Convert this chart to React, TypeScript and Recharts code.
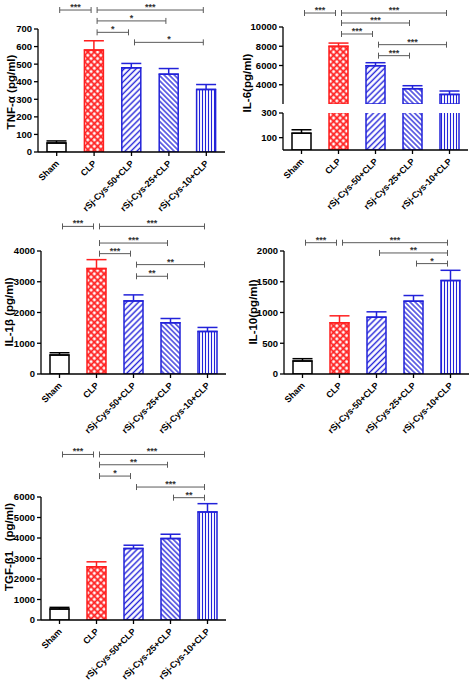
import React from "react";
import { BarChart, Bar, XAxis, YAxis, Cell, ErrorBar, ReferenceLine } from "recharts";

const FONT = "'Liberation Sans', Arial, Helvetica, sans-serif";
const RED = "#ff1f1f";
const BLUE = "#2222d9";
const GRAY = "#5a5a5a";

// groups on the x axis
const groups = ["Sham", "CLP", "rSj-Cys-50+CLP", "rSj-Cys-25+CLP", "rSj-Cys-10+CLP"];

// means and SEM (pg/ml)
const tnfMean = [51, 580, 479, 443, 356];
const tnfSem = [12, 53, 25, 32, 28];
const il6Mean = [136, 7990, 5980, 3590, 3000];
const il6Sem = [28, 340, 310, 310, 350];
const il1bMean = [616, 3427, 2378, 1665, 1384];
const il1bSem = [76, 292, 195, 140, 130];
const il10Mean = [211, 832, 924, 1184, 1519];
const il10Sem = [38, 114, 87, 92, 167];
const tgfMean = [535, 2594, 3486, 3973, 5270];
const tgfSem = [81, 244, 162, 211, 405];

// y axis ticks
const tnfTicks = [0, 100, 200, 300, 400, 500, 600, 700];
const il6TopTicks = [2000, 4000, 6000, 8000, 10000];
const il6LowTicks = [0, 100, 200, 300];
const il1bTicks = [0, 1000, 2000, 3000, 4000];
const il10Ticks = [0, 500, 1000, 1500, 2000];
const tgfTicks = [0, 1000, 2000, 3000, 4000, 5000, 6000];

// significance brackets: [from group, to group, height (data units), stars]
const tnfSig = [[0, 1, 808, "***"], [1, 4, 808, "***"], [1, 3, 746, "*"], [1, 2, 681, "*"], [2, 4, 624, "*"]];
const il6Sig = [[0, 1, 11454, "***"], [1, 4, 11454, "***"], [1, 3, 10416, "***"], [1, 2, 9273, "***"], [2, 4, 8165, "***"], [2, 3, 7022, "***"]];
const il1bSig = [[0, 1, 4800, "***"], [1, 4, 4800, "***"], [1, 3, 4259, "***"], [1, 2, 3914, "***"], [2, 4, 3557, "**"], [2, 3, 3178, "**"]];
const il10Sig = [[0, 1, 2135, "***"], [1, 4, 2135, "***"], [2, 4, 1968, "**"], [3, 4, 1795, "*"]];
const tgfSig = [[0, 1, 8075, "***"], [1, 4, 8075, "***"], [1, 3, 7573, "**"], [1, 2, 7021, "*"], [2, 4, 6486, "***"], [3, 4, 5967, "**"]];

const fills = ["#ffffff", "url(#hatchCross)", "url(#hatchFwd)", "url(#hatchBack)", "url(#hatchVert)"];
const strokes = ["#000000", RED, BLUE, BLUE, BLUE];

// one row per group; error kept one-sided (mean + SEM), split by colour.
// values under the axis floor are dropped (upper half of the broken IL-6 axis)
const buildRows = (mean: number[], sem: number[], floor: number) =>
  groups.map((name, i) => {
    const keep = mean[i] >= floor;
    const err = keep ? [0, sem[i]] : undefined;
    return {
      name,
      value: keep ? mean[i] : null,
      errBlack: i === 0 ? err : undefined,
      errRed: i === 1 ? err : undefined,
      errBlue: i > 1 ? err : undefined,
    };
  });

const XTick = (props: any) => {
  const { x, y, payload } = props;
  return (
    <g transform={`translate(${x + 3},${y + 6})`}>
      <text textAnchor="end" transform="rotate(-45)" fontSize={9} fontWeight="bold" fontFamily={FONT} fill="#000">
        {payload.value}
      </text>
    </g>
  );
};

const bracket = (stars: string) => (p: any) => {
  const x1 = p.x1 + 3;
  const x2 = p.x2 - 3;
  const y = p.y1;
  return (
    <g>
      <line x1={x1} y1={y} x2={x2} y2={y} stroke={GRAY} strokeWidth={1} />
      <line x1={x1} y1={y - 3} x2={x1} y2={y + 3} stroke={GRAY} strokeWidth={1} />
      <line x1={x2} y1={y - 3} x2={x2} y2={y + 3} stroke={GRAY} strokeWidth={1} />
      <text x={(x1 + x2) / 2} y={y} textAnchor="middle" fontSize={9} fontWeight="bold" fontFamily={FONT} fill="#333">
        {stars}
      </text>
    </g>
  );
};

// rotated y title, placed on the page
const YTitle = ({ text, x, y }: { text: string; x: number; y: number }) => (
  <svg width={1} height={1} style={{ position: "absolute", left: 0, top: 0, overflow: "visible" }}>
    <text
      x={x}
      y={y}
      transform={`rotate(-90, ${x}, ${y})`}
      textAnchor="middle"
      dominantBaseline="central"
      fontSize={11.5}
      fontWeight="bold"
      fontFamily={FONT}
      fill="#000"
      style={{ whiteSpace: "pre" }}
    >
      {text}
    </text>
  </svg>
);

const axisStyle = { stroke: "#000", strokeWidth: 1.3 };
const tickStyle = { fontSize: 9.5, fontWeight: "bold", fill: "#000", fontFamily: FONT };

type ChartProps = {
  mean: number[];
  sem: number[];
  ticks: number[];
  sig?: any[];
  left: number;
  top: number;
  height: number;
  margin: { top: number; right: number; left: number; bottom: number };
  yW: number;
  xH: number;
  hideX?: boolean;
};

const Panel = (c: ChartProps) => {
  const rows = buildRows(c.mean, c.sem, c.ticks[0]);
  return (
    <div style={{ position: "absolute", left: c.left, top: c.top }}>
      <BarChart width={236} height={c.height} data={rows} margin={c.margin}>
        <XAxis
          dataKey="name"
          hide={c.hideX}
          height={c.xH}
          interval={0}
          tickSize={4}
          tickMargin={2}
          axisLine={axisStyle}
          tickLine={axisStyle}
          tick={<XTick />}
        />
        <YAxis
          width={c.yW}
          domain={[c.ticks[0], c.ticks[c.ticks.length - 1]]}
          ticks={c.ticks}
          allowDataOverflow
          tickSize={4}
          tickMargin={2}
          axisLine={axisStyle}
          tickLine={axisStyle}
          tick={tickStyle}
        />
        <Bar dataKey="value" barSize={19} strokeWidth={1.5} isAnimationActive={false}>
          {rows.map((r, i) => (
            <Cell key={r.name} fill={fills[i]} stroke={strokes[i]} />
          ))}
          <ErrorBar dataKey="errBlack" direction="y" width={10} stroke="#000" strokeWidth={1.5} isAnimationActive={false} />
          <ErrorBar dataKey="errRed" direction="y" width={10} stroke={RED} strokeWidth={1.5} isAnimationActive={false} />
          <ErrorBar dataKey="errBlue" direction="y" width={10} stroke={BLUE} strokeWidth={1.5} isAnimationActive={false} />
        </Bar>
        {(c.sig || []).map(([a, b, y, stars]: any, i: number) => (
          <ReferenceLine
            key={i}
            segment={[{ x: groups[a], y }, { x: groups[b], y }]}
            ifOverflow="visible"
            shape={bracket(stars)}
          />
        ))}
      </BarChart>
    </div>
  );
};

export default function App() {
  return (
    <div style={{ position: "absolute", left: 0, top: 0, width: 472, height: 682, background: "#fff" }}>
      <svg width={0} height={0} style={{ position: "absolute" }}>
        <defs>
          <pattern id="hatchCross" patternUnits="userSpaceOnUse" width={4.6} height={4.6} patternTransform="rotate(45)">
            <rect width={4.6} height={4.6} fill="#fff" />
            <path d="M0 2.3H4.6M2.3 0V4.6" stroke={RED} strokeWidth={1.8} />
          </pattern>
          <pattern id="hatchFwd" patternUnits="userSpaceOnUse" width={4.2} height={4.2} patternTransform="rotate(45)">
            <rect width={4.2} height={4.2} fill="#fff" />
            <path d="M2.1 0V4.2" stroke={BLUE} strokeWidth={1.4} />
          </pattern>
          <pattern id="hatchBack" patternUnits="userSpaceOnUse" width={3.6} height={3.6} patternTransform="rotate(-45)">
            <rect width={3.6} height={3.6} fill="#fff" />
            <path d="M1.8 0V3.6" stroke={BLUE} strokeWidth={1.3} />
          </pattern>
          <pattern id="hatchVert" patternUnits="userSpaceOnUse" width={3} height={3}>
            <rect width={3} height={3} fill="#fff" />
            <path d="M1.5 0V3" stroke={BLUE} strokeWidth={1.1} />
          </pattern>
        </defs>
      </svg>

      {/* TNF-α */}
      <Panel mean={tnfMean} sem={tnfSem} ticks={tnfTicks} sig={tnfSig}
        left={0} top={0} height={220} margin={{ top: 29, right: 11, left: 0, bottom: 0 }} yW={38} xH={68} />

      {/* IL-6, broken axis: upper and lower segment */}
      <Panel mean={il6Mean} sem={il6Sem} ticks={il6TopTicks} sig={il6Sig}
        left={236} top={0} height={106} margin={{ top: 27, right: 4, left: 0, bottom: 2 }} yW={47} xH={0} hideX />
      <Panel mean={il6Mean} sem={il6Sem} ticks={il6LowTicks}
        left={236} top={105} height={113} margin={{ top: 8, right: 4, left: 0, bottom: 0 }} yW={47} xH={68} />

      {/* IL-1β */}
      <Panel mean={il1bMean} sem={il1bSem} ticks={il1bTicks} sig={il1bSig}
        left={0} top={212} height={230} margin={{ top: 39, right: 10, left: 0, bottom: 0 }} yW={41} xH={68} />

      {/* IL-10 */}
      <Panel mean={il10Mean} sem={il10Sem} ticks={il10Ticks} sig={il10Sig}
        left={236} top={212} height={230} margin={{ top: 39, right: 3, left: 0, bottom: 0 }} yW={48} xH={68} />

      {/* TGF-β1 */}
      <Panel mean={tgfMean} sem={tgfSem} ticks={tgfTicks} sig={tgfSig}
        left={0} top={440} height={242} margin={{ top: 57, right: 10, left: 0, bottom: 0 }} yW={41} xH={62} />

      <YTitle text="TNF-α (pg/ml)" x={11} y={92} />
      <YTitle text="IL-6(pg/ml)" x={247} y={83} />
      <YTitle text="IL-1β (pg/ml)" x={9} y={312} />
      <YTitle text="IL-10(pg/ml)" x={253} y={312} />
      <YTitle text="TGF-β1   (pg/ml)" x={9} y={547} />
    </div>
  );
}
